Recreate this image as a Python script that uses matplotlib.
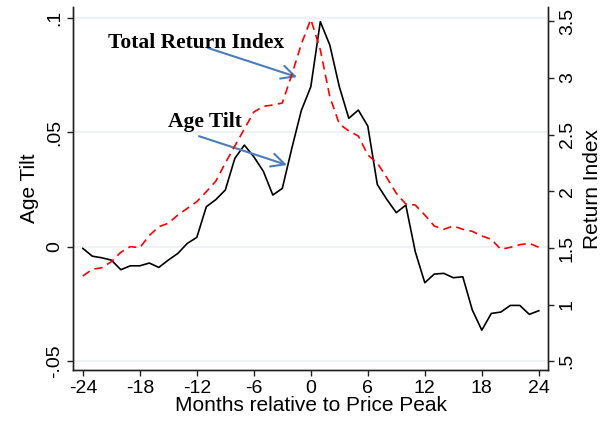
import matplotlib
matplotlib.use('Agg')
from matplotlib import pyplot as plt

months = list(range(-24, 25))

age_tilt = [-0.0007, -0.0041, -0.0048, -0.0058, -0.0100, -0.0083, -0.0083, -0.0071,
            -0.0090, -0.0058, -0.0029, 0.0015, 0.0041, 0.0175, 0.0206, 0.0248,
            0.0386, 0.0444, 0.0393, 0.0330, 0.0226, 0.0255, 0.0430, 0.0595,
            0.0699, 0.0983, 0.0881, 0.0699, 0.0561, 0.0597, 0.0527, 0.0272,
            0.0207, 0.0149, 0.0182, -0.0022, -0.0157, -0.0119, -0.0116, -0.0135,
            -0.0131, -0.0276, -0.0364, -0.0291, -0.0285, -0.0256, -0.0256, -0.0295,
            -0.0279]

return_index = [1.253, 1.312, 1.326, 1.379, 1.462, 1.512, 1.503, 1.610,
                1.688, 1.718, 1.791, 1.850, 1.909, 1.997, 2.090, 2.250,
                2.400, 2.550, 2.700, 2.750, 2.762, 2.780, 3.030, 3.300,
                3.518, 3.250, 2.835, 2.594, 2.533, 2.488, 2.321, 2.250,
                2.120, 1.983, 1.888, 1.879, 1.791, 1.694, 1.665, 1.694,
                1.665, 1.647, 1.606, 1.577, 1.488, 1.506, 1.529, 1.541,
                1.506]

x_ticks = [-24, -18, -12, -6, 0, 6, 12, 18, 24]
left_ticks = [-0.05, 0, 0.05, 0.1]
left_labels = ['-.05', '0', '.05', '.1']
right_ticks = [0.5, 1, 1.5, 2, 2.5, 3, 3.5]
right_labels = ['.5', '1', '1.5', '2', '2.5', '3', '3.5']

plt.rcParams['font.family'] = ['Liberation Sans', 'DejaVu Sans']
fs_tick = 14
fs_lab = 15

fig = plt.figure(figsize=(6.07, 4.30), dpi=100)
ax = fig.add_axes([0.1208, 0.1395, 0.7825, 0.8442])
ax2 = ax.twinx()

ax.plot(months, age_tilt, color='black', lw=1.2)
ax2.plot(months, return_index, color='red', lw=1.2, linestyle=(0, (5, 3.2)))

ax.set_xlim(-25, 25)
ax.set_ylim(-0.0538, 0.1047)
ax2.set_ylim(0.423, 3.627)

ax.set_xticks(x_ticks)
ax.set_xticklabels([str(t) for t in x_ticks], fontsize=fs_tick)
ax.set_yticks(left_ticks)
ax.set_yticklabels(left_labels, fontsize=fs_tick, rotation=90, va='center')
ax2.set_yticks(right_ticks)
ax2.set_yticklabels(right_labels, fontsize=fs_tick, rotation=90, va='center')

ax.grid(axis='y', color='#eaf1f3', lw=1.2)
ax.set_axisbelow(True)

for a in (ax, ax2):
    a.spines['top'].set_visible(False)
    for s in ('left', 'right', 'bottom'):
        a.spines[s].set_color('#222222')
        a.spines[s].set_linewidth(1.0)
    a.tick_params(direction='out', length=4.5, width=1.0, color='#222222', pad=3)

ax.set_xlabel('Months relative to Price Peak', fontsize=fs_lab, labelpad=-1)
ax.set_ylabel('Age Tilt', fontsize=fs_lab, labelpad=5)
ax2.set_ylabel('Return Index', fontsize=fs_lab, labelpad=5)

arrow_color = '#4a7ebb'
ax.annotate('', xy=(-1.44, 0.0741), xytext=(-10.82, 0.0868),
            arrowprops=dict(arrowstyle='->', color=arrow_color, lw=1.5,
                            mutation_scale=24, shrinkA=0, shrinkB=0))
ax.annotate('', xy=(-2.5, 0.0357), xytext=(-11.77, 0.0483),
            arrowprops=dict(arrowstyle='->', color=arrow_color, lw=1.5,
                            mutation_scale=24, shrinkA=0, shrinkB=0))
ax.text(-21.36, 0.0890, 'Total Return Index', family='Liberation Serif',
        fontweight='bold', fontsize=15.5, va='center', ha='left')
ax.text(-15.04, 0.0545, 'Age Tilt', family='Liberation Serif',
        fontweight='bold', fontsize=15.5, va='center', ha='left')

fig.savefig('out.png', dpi=100)
